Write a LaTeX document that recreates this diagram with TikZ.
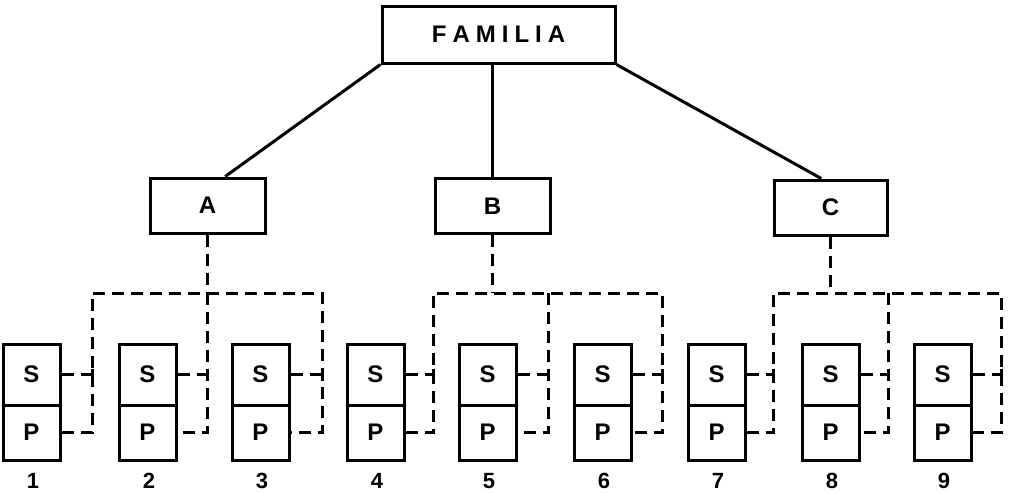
\documentclass[tikz,border=0pt]{standalone}
\usepackage{fontspec}
\setmainfont{Liberation Sans}
\usetikzlibrary{calc}
\begin{document}
\begin{tikzpicture}[x=1pt,y=-1pt,line width=3pt,
  box/.style={draw,rectangle,line width=3pt,inner sep=0pt,font=\fontsize{24}{24}\selectfont\bfseries},
  leaf/.style={box,minimum width=57pt},
  num/.style={inner sep=0pt,font=\fontsize{22}{22}\selectfont\bfseries},
  dashline/.style={line width=3pt,dash pattern=on 12pt off 7pt},
  solidline/.style={line width=3pt}]
\useasboundingbox[fill=white] (0,0) rectangle (1013,493);
% top level
\node[box,minimum width=233pt,minimum height=57pt] (fam) at (498.5,34.5)
  {F\kern6pt A\kern6pt M\kern6pt I\kern6pt L\kern6pt I\kern6pt A};
\node[box,minimum width=115pt,minimum height=55pt] (a) at (207.5,205.5) {A};
\node[box,minimum width=115pt,minimum height=55pt] (b) at (492.5,206) {B};
\node[box,minimum width=113pt,minimum height=55pt] (c) at (830.5,207.5) {C};
\draw[solidline] (fam.south west) -- ($(a.north west)!0.65!(a.north east)$);
\draw[solidline] (b.north |- fam.south) -- (b.north);
\draw[solidline] (fam.south east) -- ($(c.north west)!0.42!(c.north east)$);
% leaves
\foreach \i/\x in {1/3,2/119,3/232,4/347,5/459,6/574,7/688,8/802,9/914}{
  \node[leaf,minimum height=61pt] (s\i) at (\x+28.5,374.5) {S};
  \node[leaf,minimum height=55pt] (p\i) at (\x+28.5,432.5) {P};
  \node[num] (n\i) at (\x+30,481) {\i};
}
% bus coordinates
\coordinate (v1) at (92,293);  \coordinate (v2) at (207,293);  \coordinate (v3) at (322,293);
\coordinate (v4) at (433,293); \coordinate (v5) at (548,293);  \coordinate (v6) at (662,293);
\coordinate (v7) at (773,293); \coordinate (v8) at (888,293);  \coordinate (v9) at (1001,293);
% group connectors
\foreach \g/\l/\m/\r in {a/1/2/3,b/4/5/6,c/7/8/9}{
  \draw[dashline] (\g.south) -- (\g.south |- v\l);
  \draw[dashline] (p\l.east) -- (p\l.east -| v\l) -- (v\l) -- (v\r) -- (p\r.east -| v\r) -- (p\r.east);
  \draw[dashline] (v\m) -- (p\m.east -| v\m) -- (p\m.east);
}
\foreach \i in {1,...,9}{
  \draw[dashline] (s\i.east) -- (s\i.east -| v\i);
  \draw[solidline] ($(s\i.east -| v\i)+(0,-6)$) -- ++(0,12);
}
\end{tikzpicture}
\end{document}
